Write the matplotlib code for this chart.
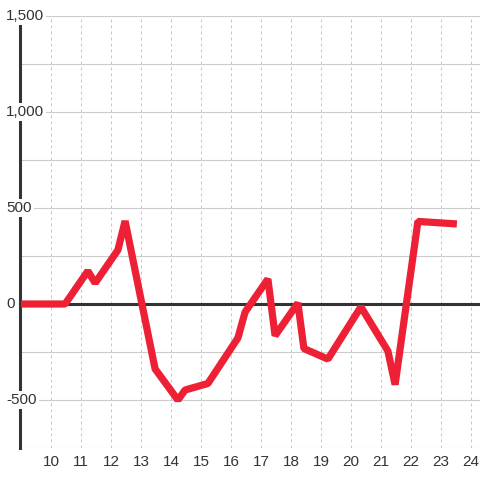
import matplotlib
matplotlib.use("Agg")
import matplotlib.pyplot as plt

plt.rcParams['font.family'] = ['Liberation Sans', 'DejaVu Sans']

# values
x_vals = [9.0, 10.47, 11.23, 11.47, 12.23, 12.47, 13.47, 14.23, 14.47, 15.23,
          16.23, 16.47, 17.23, 17.47, 18.23, 18.43, 19.23, 20.33, 21.23, 21.47,
          22.23, 23.53]
y_vals = [0, 0, 172, 109, 281, 432, -338, -500, -448, -414,
          -177, -42, 130, -165, 5, -232, -287, -15, -245, -420,
          430, 417]

x_ticks = list(range(10, 25))
y_ticks = [-500, 0, 500, 1000, 1500]
y_grid = [-750, -500, -250, 0, 250, 500, 750, 1000, 1250, 1500]

fig = plt.figure(figsize=(4.8, 4.8), dpi=100)
ax = fig.add_axes([20 / 480, 1 - 448 / 480, 460 / 480, 432 / 480])

ax.set_xlim(8.967, 24.3)
ax.set_ylim(-750, 1500)

for s in ['top', 'right', 'bottom']:
    ax.spines[s].set_visible(False)
ax.spines['left'].set_color('#333333')
ax.spines['left'].set_linewidth(2.2)
ax.spines['left'].set_bounds(-750, 1458)
ax.spines['left'].set_zorder(2.5)

# grid
for v in y_grid:
    ax.axhline(v, color='#cccccc', lw=0.8, zorder=0.5)
for v in x_ticks:
    ax.axvline(v, color='#c8c8c8', lw=0.72, linestyle=(0, (3, 3)), zorder=0.5)
ax.axhline(0, color='#333333', lw=2.2, zorder=1.8)

ax.plot(x_vals, y_vals, color='#ee2035', lw=5.2, solid_joinstyle='bevel',
        solid_capstyle='butt', zorder=3)

ax.set_xticks(x_ticks)
ax.set_xticklabels([str(v) for v in x_ticks])
ax.tick_params(axis='x', length=0, pad=5, labelsize=11, labelcolor='#333333')
ax.set_yticks([])

# y labels sit over the spine on a white box
for v in y_ticks:
    ax.text(-14 / 460, v, f"{v:,}", transform=ax.get_yaxis_transform(),
            ha='left', va='center', fontsize=11, color='#333333',
            bbox=dict(facecolor='white', edgecolor='none', pad=1.5),
            zorder=4, clip_on=False)

fig.savefig("out.png", dpi=100)
